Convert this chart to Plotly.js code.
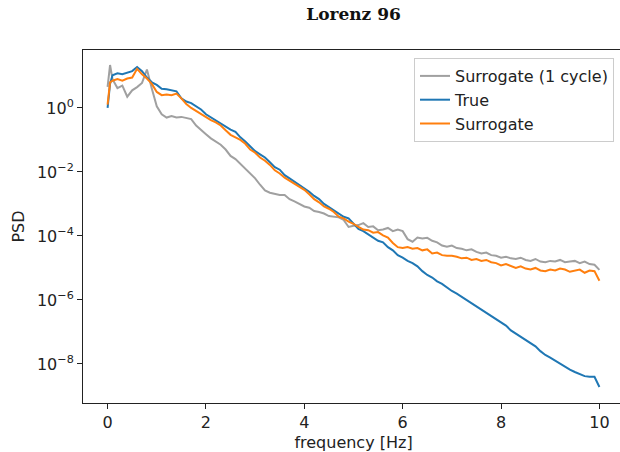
<!DOCTYPE html>
<html>
<head>
<meta charset="utf-8">
<script src="https://cdn.plot.ly/plotly-3.0.1.min.js"></script>
<style>
  html, body { margin: 0; padding: 0; overflow: hidden; background: #fff; }
  #plot { width: 630px; height: 452px; }
</style>
</head>
<body>
<div id="plot"></div>
<script>
// frequency grid [Hz]
const freq = [0, 0.05, 0.1, 0.2, 0.3, 0.4, 0.5, 0.6, 0.7, 0.8, 0.9,
  1.0, 1.1, 1.2, 1.3, 1.4, 1.5, 1.6, 1.7, 1.8, 1.9,
  2.0, 2.1, 2.2, 2.3, 2.4, 2.5, 2.6, 2.7, 2.8, 2.9,
  3.0, 3.1, 3.2, 3.3, 3.4, 3.5, 3.6, 3.7, 3.8, 3.9,
  4.0, 4.1, 4.2, 4.3, 4.4, 4.5, 4.6, 4.7, 4.8, 4.9,
  5.0, 5.1, 5.2, 5.3, 5.4, 5.5, 5.6, 5.7, 5.8, 5.9,
  6.0, 6.1, 6.2, 6.3, 6.4, 6.5, 6.6, 6.7, 6.8, 6.9,
  7.0, 7.1, 7.2, 7.3, 7.4, 7.5, 7.6, 7.7, 7.8, 7.9,
  8.0, 8.1, 8.2, 8.3, 8.4, 8.5, 8.6, 8.7, 8.8, 8.9,
  9.0, 9.1, 9.2, 9.3, 9.4, 9.5, 9.6, 9.7, 9.8, 9.9, 10.0];

// log10(PSD)
const surrogate1CycleLog10 = [0.66, 1.34, 0.90, 0.62, 0.70, 0.35, 0.55, 0.65, 0.78, 1.20, 0.60,
  0.05, -0.20, -0.30, -0.25, -0.30, -0.28, -0.32, -0.35, -0.55, -0.70,
  -0.82, -0.95, -1.05, -1.15, -1.30, -1.50, -1.60, -1.75, -1.92, -2.05,
  -2.20, -2.40, -2.58, -2.65, -2.68, -2.72, -2.72, -2.85, -2.92, -3.00,
  -3.08, -3.12, -3.22, -3.25, -3.30, -3.38, -3.40, -3.42, -3.50, -3.72,
  -3.68, -3.66, -3.60, -3.72, -3.70, -3.82, -3.80, -3.75, -3.85, -3.80,
  -3.85, -4.10, -4.18, -4.05, -4.08, -4.06, -4.15, -4.20, -4.30, -4.34,
  -4.30, -4.38, -4.40, -4.45, -4.42, -4.50, -4.55, -4.52, -4.60, -4.62,
  -4.68, -4.65, -4.70, -4.72, -4.68, -4.75, -4.78, -4.72, -4.80, -4.82,
  -4.78, -4.80, -4.75, -4.82, -4.80, -4.78, -4.85, -4.80, -4.88, -4.90, -5.06];

const trueLog10 = [0.00, 0.75, 1.02, 1.08, 1.05, 1.10, 1.15, 1.28, 1.15, 0.95, 0.80,
  0.72, 0.60, 0.58, 0.56, 0.52, 0.30, 0.20, 0.15, 0.05, -0.05,
  -0.20, -0.30, -0.38, -0.48, -0.58, -0.68, -0.75, -0.92, -1.05, -1.20,
  -1.35, -1.45, -1.55, -1.70, -1.85, -1.93, -2.10, -2.20, -2.30, -2.42,
  -2.50, -2.62, -2.75, -2.85, -3.00, -3.10, -3.22, -3.30, -3.40, -3.45,
  -3.62, -3.78, -3.85, -3.95, -4.05, -4.15, -4.20, -4.35, -4.45, -4.60,
  -4.68, -4.78, -4.85, -4.95, -5.10, -5.22, -5.30, -5.42, -5.50, -5.62,
  -5.72, -5.80, -5.90, -6.00, -6.10, -6.22, -6.32, -6.40, -6.50, -6.60,
  -6.70, -6.80, -6.95, -7.05, -7.15, -7.25, -7.35, -7.45, -7.60, -7.72,
  -7.80, -7.90, -8.00, -8.08, -8.18, -8.25, -8.32, -8.38, -8.40, -8.40, -8.72];

const surrogateLog10 = [0.10, 0.80, 0.85, 0.90, 0.85, 0.92, 0.95, 1.22, 1.05, 0.92, 0.75,
  0.50, 0.40, 0.42, 0.40, 0.45, 0.30, 0.12, 0.00, -0.10, -0.18,
  -0.30, -0.38, -0.45, -0.55, -0.70, -0.84, -0.92, -1.00, -1.12, -1.30,
  -1.40, -1.55, -1.65, -1.78, -1.95, -2.05, -2.18, -2.28, -2.38, -2.48,
  -2.56, -2.70, -2.85, -2.95, -3.08, -3.15, -3.25, -3.40, -3.45, -3.55,
  -3.62, -3.72, -3.80, -3.82, -3.90, -3.88, -3.98, -4.05, -4.22, -4.35,
  -4.38, -4.35, -4.40, -4.38, -4.45, -4.42, -4.55, -4.52, -4.60, -4.62,
  -4.62, -4.65, -4.70, -4.68, -4.75, -4.72, -4.78, -4.75, -4.82, -4.85,
  -4.92, -4.88, -4.95, -5.00, -4.95, -5.02, -5.05, -5.00, -5.08, -5.10,
  -5.05, -5.08, -5.02, -5.05, -5.12, -5.08, -5.05, -5.15, -5.08, -5.10, -5.40];

const seriesNames = ['Surrogate (1 cycle)', 'True', 'Surrogate'];
const seriesColors = ['#a0a0a0', '#1f77b4', '#ff7f0e'];
const seriesLog10 = [surrogate1CycleLog10, trueLog10, surrogateLog10];

const yTickVals = [1e-8, 1e-6, 1e-4, 1e-2, 1];
const yTickText = ['10<sup>\u22128</sup>', '10<sup>\u22126</sup>', '10<sup>\u22124</sup>', '10<sup>\u22122</sup>', '10<sup>0</sup>'];
const xTickVals = [0, 2, 4, 6, 8, 10];

const traces = seriesNames.map((name, i) => ({
  type: 'scatter',
  mode: 'lines',
  name: name,
  x: freq,
  y: seriesLog10[i].map(v => Math.pow(10, v)),
  line: { color: seriesColors[i], width: 2 }
}));

const font = 'DejaVu Sans, sans-serif';
const fs = 16;
const layout = {
  width: 630,
  height: 452,
  margin: { l: 83, r: 6, t: 50, b: 49, pad: 0 },
  paper_bgcolor: '#fff',
  plot_bgcolor: '#fff',
  font: { family: font, size: fs, color: '#222' },
  title: {
    text: '<b>Lorenz 96</b>',
    font: { family: 'DejaVu Serif, serif', size: 17, color: '#111' },
    x: 0.5, xref: 'paper', xanchor: 'center',
    y: 1 - 14 / 452, yref: 'container', yanchor: 'middle'
  },
  xaxis: {
    range: [-0.5, 10.5],
    tickvals: xTickVals,
    ticks: 'outside', ticklen: 5, tickwidth: 1, tickcolor: '#222',
    showgrid: false, zeroline: false,
    showline: true, linecolor: '#222', linewidth: 1, mirror: true,
    tickfont: { family: font, size: fs, color: '#222' },
    title: { text: 'frequency [Hz]', font: { family: font, size: fs, color: '#222' }, standoff: 6 }
  },
  yaxis: {
    type: 'log',
    range: [-9.22, 1.81],
    tickvals: yTickVals,
    ticktext: yTickText,
    ticks: 'outside', ticklen: 5, tickwidth: 1, tickcolor: '#222',
    showgrid: false, zeroline: false,
    showline: true, linecolor: '#222', linewidth: 1, mirror: true,
    tickfont: { family: font, size: fs, color: '#222' },
    title: { text: 'PSD', font: { family: font, size: fs, color: '#222' }, standoff: 8 }
  },
  legend: {
    x: (614 - 83) / 541, xanchor: 'right',
    y: (403 - 58) / 353, yanchor: 'top',
    bgcolor: 'rgba(255,255,255,0.8)',
    bordercolor: '#cccccc', borderwidth: 1,
    font: { family: font, size: fs, color: '#222' },
    traceorder: 'normal'
  },
  showlegend: true
};

Plotly.newPlot('plot', traces, layout, { displayModeBar: false, staticPlot: true });
</script>
</body>
</html>
